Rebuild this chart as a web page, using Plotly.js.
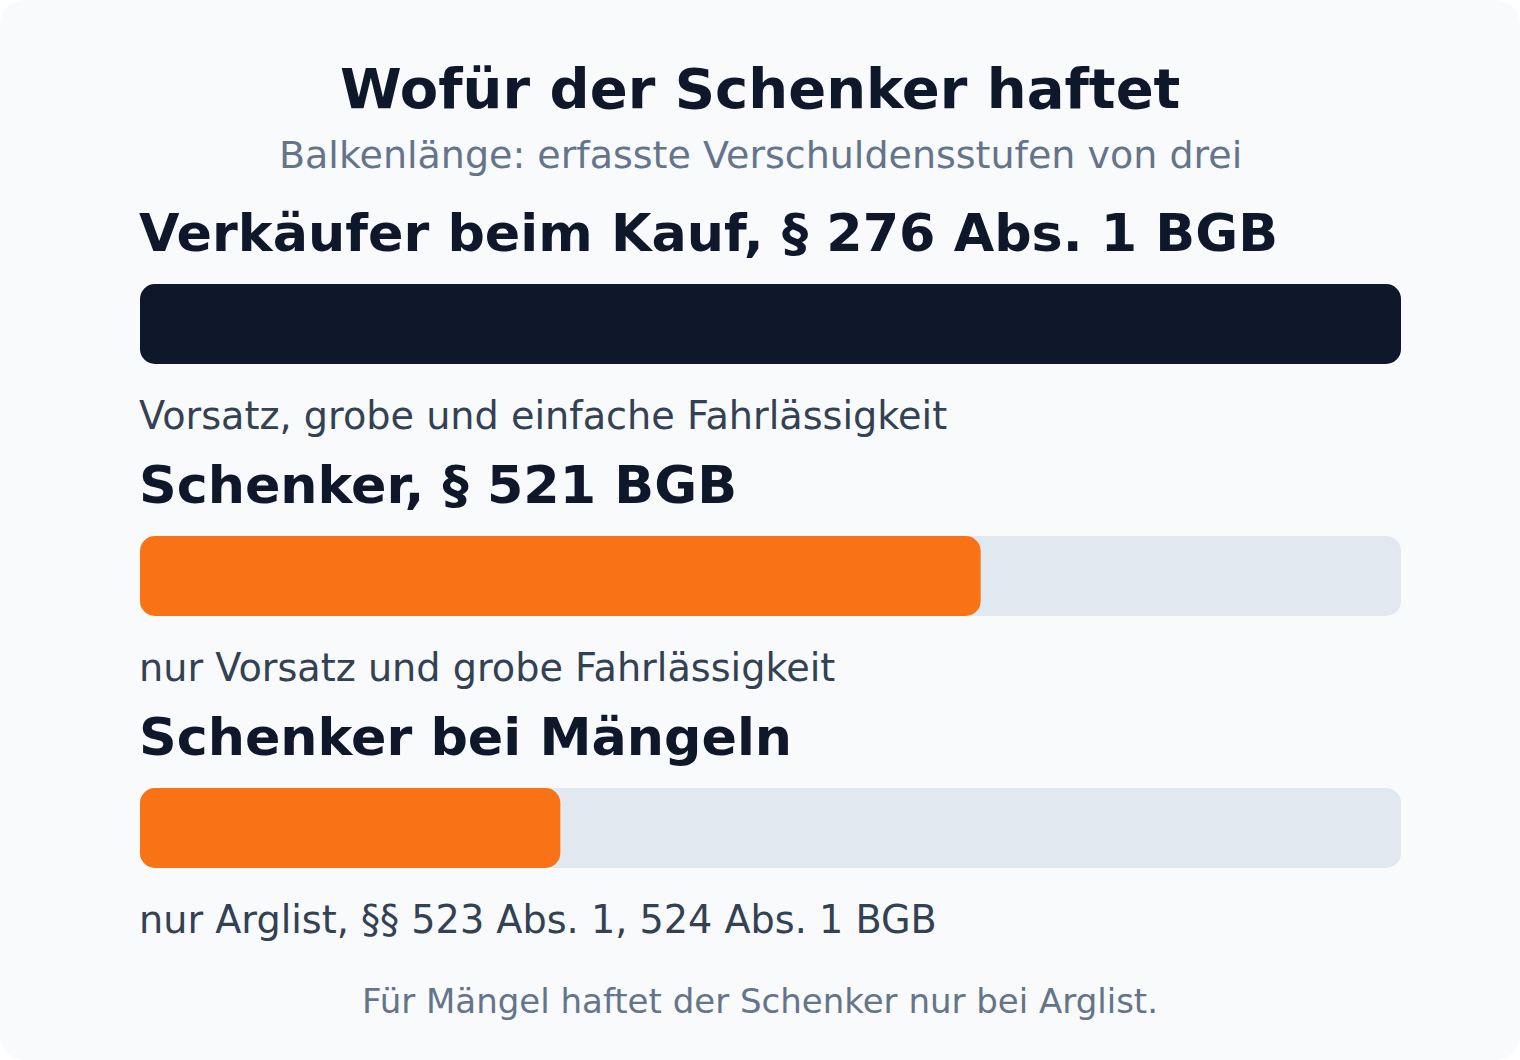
<!DOCTYPE html>
<html>
<head>
<meta charset="utf-8">
<script src="https://cdn.plot.ly/plotly-3.0.1.min.js"></script>
<style>
  html, body { margin: 0; padding: 0; background: #ffffff; }
  #card { width: 1520px; height: 1060px; background: #f8fafc; border-radius: 24px; overflow: hidden; }
  #chart { width: 1520px; height: 1060px; }
</style>
</head>
<body>
<div id="card"><div id="chart"></div></div>
<script>
const titleText = "Wofür der Schenker haftet";
const subtitleText = "Balkenlänge: erfasste Verschuldensstufen von drei";
const footerText = "Für Mängel haftet der Schenker nur bei Arglist.";
const categories = ["Verkäufer beim Kauf, § 276 Abs. 1 BGB", "Schenker, § 521 BGB", "Schenker bei Mängeln"];
const levels = [3, 2, 1];
const maxLevels = 3;
const descriptions = [
  "Vorsatz, grobe und einfache Fahrlässigkeit",
  "nur Vorsatz und grobe Fahrlässigkeit",
  "nur Arglist, §§ 523 Abs. 1, 524 Abs. 1 BGB"
];
const barColors = ["#0f172a", "#f97316", "#f97316"];
const trackColor = "#e2e8f0";

const FONT = "DejaVu Sans, Verdana, sans-serif";
const barW = 80 / 252;
const R = 15;

function barTrace(vals, color) {
  return {
    type: "bar", orientation: "h", y: categories, x: vals, width: barW,
    base: vals.map(() => 0),
    marker: { color: color, cornerradius: R, line: { width: 0 } },
    hoverinfo: "skip", showlegend: false
  };
}

const traces = [
  barTrace(categories.map(() => maxLevels), trackColor),
  barTrace(levels, barColors)
];

const annotations = [];
categories.forEach((c, i) => {
  annotations.push({
    xref: "paper", yref: "y", x: 0, y: c, xanchor: "left", yanchor: "middle",
    xshift: -3, yshift: 92, text: "<b>" + c + "</b>", showarrow: false,
    font: { family: FONT, size: 52.3, color: "#0f172a" }
  });
  annotations.push({
    xref: "paper", yref: "y", x: 0, y: c, xanchor: "left", yanchor: "middle",
    xshift: -3, yshift: -91.5, text: descriptions[i], showarrow: false,
    font: { family: FONT, size: 38.2, color: "#334155" }
  });
});
const cx = (760 - 140) / 1261;
annotations.push({
  xref: "paper", yref: "paper", x: cx, y: 1, xanchor: "center", yanchor: "middle",
  yshift: 109.5, text: "<b>" + titleText + "</b>", showarrow: false,
  font: { family: FONT, size: 56, color: "#0f172a" }
});
annotations.push({
  xref: "paper", yref: "paper", x: cx, y: 1, xanchor: "center", yanchor: "middle",
  yshift: 43.2, text: subtitleText, showarrow: false,
  font: { family: FONT, size: 38, color: "#64748b" }
});
annotations.push({
  xref: "paper", yref: "paper", x: cx, y: 0, xanchor: "center", yanchor: "middle",
  yshift: -47.2, text: footerText, showarrow: false,
  font: { family: FONT, size: 34, color: "#64748b" }
});

const layout = {
  width: 1520, height: 1060,
  margin: { l: 140, r: 119, t: 198, b: 106, pad: 0 },
  paper_bgcolor: "rgba(0,0,0,0)", plot_bgcolor: "rgba(0,0,0,0)",
  barmode: "overlay",
  font: { family: FONT },
  xaxis: { range: [0, maxLevels], showgrid: false, zeroline: false, showticklabels: false, showline: false, fixedrange: true },
  yaxis: { type: "category", categoryorder: "array", categoryarray: categories, autorange: "reversed",
           showgrid: false, zeroline: false, showticklabels: false, showline: false, fixedrange: true },
  annotations: annotations,
  showlegend: false
};

Plotly.newPlot("chart", traces, layout, { staticPlot: true, displayModeBar: false });
</script>
</body>
</html>
